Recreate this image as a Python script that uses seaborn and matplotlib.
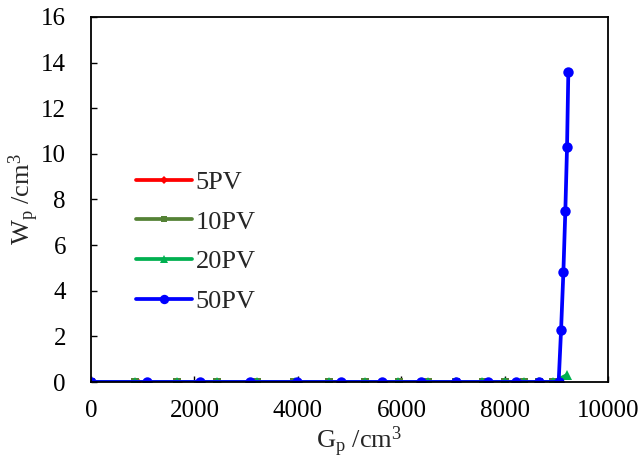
"""
Cumulative water vs gas production for different injection volumes
"""

import pandas as pd
import seaborn as sns
import matplotlib.pyplot as plt

# values
gp_5pv = [0, 900, 1700, 2450, 3200, 3950, 4600, 5300, 5950, 6520, 7060, 7570, 8000, 8370, 8660, 8940]
wp_5pv = [0, 0, 0, 0, 0, 0, 0, 0, 0, 0, 0, 0, 0, 0, 0, 0]

gp_10pv = [0, 850, 1660, 2430, 3200, 3930, 4600, 5300, 5945, 6520, 7060, 7570, 8005, 8370, 8660, 8940]
wp_10pv = [0, 0, 0, 0, 0, 0, 0, 0, 0, 0, 0, 0, 0, 0, 0, 0]

gp_20pv = [0, 843, 1661, 2434, 3207, 3934, 4600, 5300, 5943, 6523, 7060, 7566, 8004, 8371, 8660, 8938, 9196]
wp_20pv = [0, 0, 0, 0, 0, 0, 0, 0, 0, 0, 0, 0, 0, 0, 0, 0, 0.3]

gp_50pv = [0, 1082, 2099, 3065, 3981, 4835, 5634, 6375, 7060, 7670, 8215, 8656, 9040,
           9087, 9131, 9169, 9202, 9227]
wp_50pv = [0, 0, 0, 0, 0, 0, 0, 0, 0, 0, 0, 0, 0, 2.3, 4.8, 7.5, 10.3, 13.6]

series = [
    ("5PV", gp_5pv, wp_5pv, "#FF0000", "D", 4),
    ("10PV", gp_10pv, wp_10pv, "#548235", "s", 5.5),
    ("20PV", gp_20pv, wp_20pv, "#00B050", "^", 7),
    ("50PV", gp_50pv, wp_50pv, "#0000FF", "o", 7.5),
]

sns.set_theme(style="ticks")
plt.rcParams['font.family'] = ['Liberation Serif', 'DejaVu Serif']
plt.rcParams['mathtext.fontset'] = 'custom'
plt.rcParams['mathtext.rm'] = 'Liberation Serif'
plt.rcParams['mathtext.it'] = 'Liberation Serif:italic'

fig = plt.figure(figsize=(6.44, 4.69), dpi=100)
ax = fig.add_axes([0.1413, 0.1855, 0.8033, 0.7783])

for name, gp, wp, col, mk, ms in series:
    df = pd.DataFrame({'Gp': gp, 'Wp': wp})
    sns.lineplot(x='Gp', y='Wp', data=df, ax=ax, color=col, marker=mk,
                 markersize=ms, markeredgewidth=0, linewidth=2.7,
                 sort=False, estimator=None, label=name)

ax.set_xlim(0, 10000)
ax.set_ylim(0, 16)
ax.set_xticks(range(0, 10001, 2000))
ax.set_yticks(range(0, 17, 2))
ax.tick_params(direction='in', length=4, width=1, labelsize=18, colors='black')
ax.tick_params(axis='x', pad=13)
ax.tick_params(axis='y', pad=18)
for sp in ax.spines.values():
    sp.set_visible(True)
    sp.set_linewidth(1.3)
    sp.set_color('black')

ax.set_xlabel(r'G$_\mathrm{p}$ /cm$^\mathrm{3}$', fontsize=19, labelpad=2)
ax.set_ylabel(r'W$_\mathrm{p}$ /cm$^\mathrm{3}$', fontsize=19, labelpad=0)
ax.xaxis.label.set_x(0.518)

ax.legend(loc='upper left', bbox_to_anchor=(0.042, 0.645), frameon=False,
          fontsize=19, handlelength=2.1, labelspacing=0.62, handletextpad=0.15,
          markerscale=0.9)

fig.savefig('out.png', dpi=100)
